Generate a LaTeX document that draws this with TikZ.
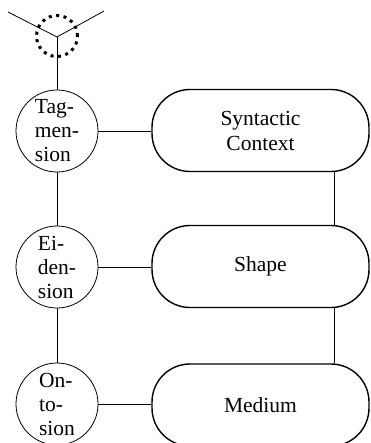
\documentclass[tikz,border=0pt]{standalone}
\usepackage{fontspec}
\setmainfont{Liberation Serif}
\begin{document}
\begin{tikzpicture}[x=1pt,y=-1pt,
  lvl/.style={circle,draw,line width=0.8pt,minimum size=82pt,inner sep=0pt,
    align=left,font=\fontsize{21.5}{24}\selectfont},
  field/.style={rectangle,draw,line width=1.4pt,rounded corners=38pt,
    minimum width=217pt,minimum height=82pt,inner sep=0pt,align=center,
    font=\fontsize{21.5}{25}\selectfont},
  link/.style={line width=0.8pt},
  hub/.style={circle,draw,line width=3pt,dash pattern=on 3pt off 4.5pt,
    minimum size=41pt,inner sep=0pt}]
\useasboundingbox (0,0) rectangle (370,443);

% three-way junction with its dotted ring
\coordinate (yc) at (57,37);
\coordinate (yl) at (8,12);
\coordinate (yr) at (104,11);
\node[hub] (ring) at (57,36) {};
\draw[link] (yl) -- (yc) -- (yr);

% levels on the left
\node[lvl] (tag) at (57,131) {Tag-\\men-\\sion};
\node[lvl] (eid) at (57,267) {Ei-\\den-\\sion};
\node[lvl] (ont) at (57,404) {On-\\to-\\sion};

% fields on the right
\node[field] (syn) at (260.5,130.5) {Syntactic\\Context};
\node[field] (shp) at (260.5,266.5) {Shape};
\node[field] (med) at (260.5,405) {Medium};

% connectors
\draw[link] (yc) -- (tag.north);
\draw[link] (tag) -- (eid);
\draw[link] (eid) -- (ont);
\draw[link] (tag.east) -- (tag.east -| syn.west);
\draw[link] (eid.east) -- (eid.east -| shp.west);
\draw[link] (ont.east) -- (ont.east -| med.west);
\draw[link] ([xshift=74pt]syn.south) -- ([xshift=74pt]shp.north);
\draw[link] ([xshift=74pt]shp.south) -- ([xshift=74pt]med.north);
\end{tikzpicture}
\end{document}
